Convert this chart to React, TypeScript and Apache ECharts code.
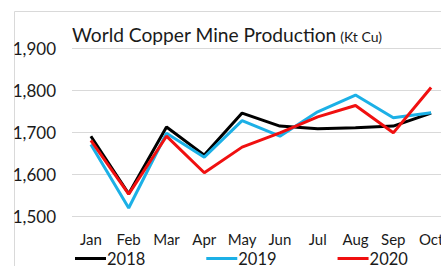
import React, { useEffect, useRef } from "react";
import * as echarts from "echarts";

const months = ["Jan", "Feb", "Mar", "Apr", "May", "Jun", "Jul", "Aug", "Sep", "Oct"];
const s2018 = [1690, 1553, 1712, 1645, 1745, 1714, 1708, 1710, 1714, 1745];
const s2019 = [1670, 1519, 1697, 1640, 1727, 1690, 1748, 1788, 1734, 1746];
const s2020 = [1680, 1552, 1690, 1603, 1664, 1698, 1736, 1763, 1698, 1806];
const yTicks = { min: 1500, max: 1900, interval: 100 };

const FONT = "Lato";

export default function App() {
  const ref = useRef<HTMLDivElement>(null);
  useEffect(() => {
    document.body.style.margin = "0";
    document.body.style.overflow = "hidden";
    const chart = echarts.init(ref.current!, undefined, { renderer: "svg" });
    const mk = (name: string, data: number[], color: string) => ({
      name,
      type: "line",
      data,
      symbol: "none",
      lineStyle: { color, width: 3 },
      itemStyle: { color },
    });
    chart.setOption({
      animation: false,
      backgroundColor: "#ffffff",
      textStyle: { fontFamily: FONT },
      title: {
        left: 67,
        top: 20,
        text: "{a|World Copper Mine Production}{b| (Kt Cu)}",
        textStyle: {
          fontWeight: "normal",
          rich: {
            a: { fontFamily: FONT, fontSize: 19.2, fontWeight: "normal", color: "#1a1a1a" },
            b: { fontFamily: FONT, fontSize: 14, fontWeight: "normal", color: "#1a1a1a", padding: [3, 0, 0, 0] },
          },
        },
      },
      graphic: [
        {
          type: "rect",
          shape: { x: 14.5, y: 11.5, width: 600, height: 400 },
          style: { fill: "none", stroke: "#d9d9d9", lineWidth: 1 },
          z: -1,
        },
      ],
      grid: { left: 72, top: 48, width: 378, height: 168 },
      xAxis: {
        type: "category",
        data: months,
        boundaryGap: true,
        axisLine: { show: false },
        axisTick: { show: false },
        axisLabel: { fontSize: 15, color: "#1a1a1a", margin: 15, fontFamily: FONT },
      },
      yAxis: {
        type: "value",
        min: yTicks.min,
        max: yTicks.max,
        interval: yTicks.interval,
        axisLine: { show: false },
        axisTick: { show: false },
        splitLine: { lineStyle: { color: "#d9d9d9", width: 1 } },
        axisLabel: {
          fontSize: 17,
          color: "#1a1a1a",
          margin: 16,
          fontFamily: FONT,
          formatter: (v: number) => v.toLocaleString("en-US"),
        },
      },
      legend: {
        left: 70,
        top: 245,
        icon: "rect",
        itemWidth: 31,
        itemHeight: 3,
        itemGap: 61,
        textStyle: { fontSize: 16.5, color: "#1a1a1a", fontFamily: FONT, padding: [0, 0, 0, -4] },
        data: ["2018", "2019", "2020"],
      },
      series: [mk("2018", s2018, "#000000"), mk("2019", s2019, "#1cb0e6"), mk("2020", s2020, "#f01010")],
    });
    return () => chart.dispose();
  }, []);
  return (
    <div style={{ position: "absolute", left: 0, top: 0, width: 441, height: 266, overflow: "hidden" }}>
      <div ref={ref} style={{ width: 470, height: 300 }} />
    </div>
  );
}
